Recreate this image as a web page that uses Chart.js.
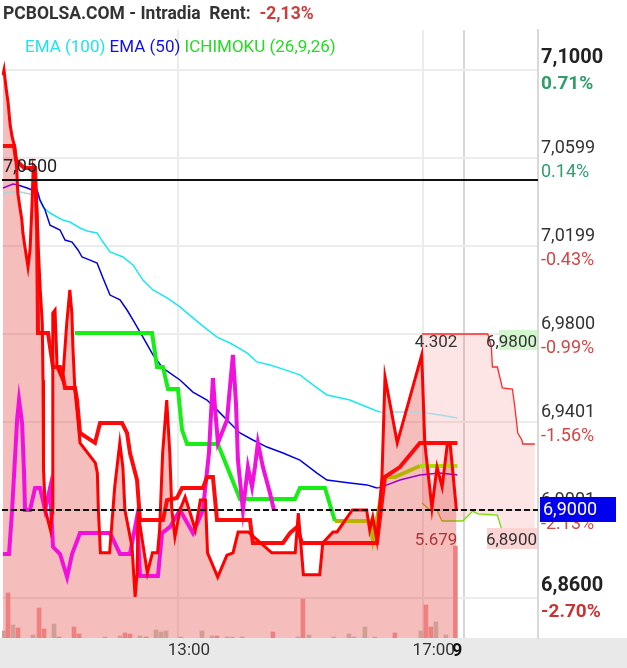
<!DOCTYPE html>
<html>
<head>
<meta charset="utf-8">
<script src="https://cdn.jsdelivr.net/npm/chart.js@4.4.1/dist/chart.umd.min.js"></script>
<style>
  html, body { margin: 0; padding: 0; background: #fff; }
  #wrap { width: 627px; height: 668px; }
</style>
</head>
<body>
<div id="wrap"><canvas id="chart" width="627" height="668"></canvas></div>
<script>
// ========================
// DATA (x = minutes since midnight)
// ========================
const X_MIN = 607.5;
const X_MAX = 1133;
const Y_MIN = 6.8418;
const Y_MAX = 7.1182;

const PREV_CLOSE = 7.05;
const PREV_CLOSE_LABEL = "7,0500";
const LAST_PRICE = 6.90;
const LAST_PRICE_LABEL = "6,9000";

const headerTitle = "PCBOLSA.COM - Intradia  Rent:  ";
const headerRent = "-2,13%";
const legendLabels = ["EMA (100)", "EMA (50)", "ICHIMOKU (26,9,26)"];

const xTickValues = [780, 1020, 1043, 1060];
const xTickLabels = ["13:00", "17:00", "9", ""];

const yTicks = [7.1000, 7.0599, 7.0199, 6.9800, 6.9401, 6.9001, 6.8600];
const yTickLabels = ["7,1000", "7,0599", "7,0199", "6,9800", "6,9401", "6,9001", "6,8600"];
const yTickPercents = ["0.71%", "0.14%", "-0.43%", "-0.99%", "-1.56%", "-2.13%", "-2.70%"];

// price (close)
const priceTimes = [608.5, 609.5, 611.5, 613.5, 615.5, 617.5, 620, 622, 623, 625,
  627, 628, 630, 633, 635, 637, 638, 640, 642, 643,
  645, 647, 647.7, 648.2, 650, 655, 656.6, 657.1, 657.5, 659.5,
  661.5, 667, 671, 674, 676, 677, 679, 682, 684, 699,
  701, 702, 704, 713, 718, 723, 726, 728, 735, 738,
  740, 741, 745, 750, 755, 760, 762, 765, 769, 772,
  774, 777, 782, 787, 792, 797, 802, 807, 809, 819,
  828, 834, 839, 849, 872, 895, 898, 903, 919, 922,
  932, 936, 951, 965, 968, 971, 975, 980, 983, 995,
  1019, 1022, 1029, 1034, 1039, 1044, 1047, 1053];
const priceValues = [7.0977, 7.1000, 7.0918, 7.0850, 7.0750, 7.0695, 7.0650, 7.0545, 7.0441, 7.0377,
  7.0318, 7.0259, 7.0195, 7.0105, 7.0182, 7.0395, 7.0545, 7.0500, 7.0332, 7.0195,
  7.0000, 6.9850, 6.9591, 6.9182, 6.9000, 6.8909, 6.8986, 6.9441, 6.9895, 6.9909,
  6.9650, 6.9591, 6.9850, 7.0000, 6.9895, 6.9741, 6.9545, 6.9409, 6.9305, 6.9214,
  6.9168, 6.9000, 6.8805, 6.8805, 6.9105, 6.9305, 6.9195, 6.9000, 6.8832, 6.8605,
  6.8714, 6.8986, 6.8864, 6.8714, 6.8805, 6.8805, 6.8909, 6.9259, 6.9500, 6.9259,
  6.9000, 6.8877, 6.9000, 6.9059, 6.8986, 6.8909, 6.9045, 6.9045, 6.8805, 6.8695,
  6.8795, 6.8805, 6.8900, 6.8900, 6.8805, 6.8805, 6.8986, 6.8705, 6.8705, 6.8850,
  6.8900, 6.8900, 6.9000, 6.9000, 6.8909, 6.8968, 6.8864, 6.9150, 6.9605, 6.9305,
  6.9705, 6.9305, 6.9009, 6.9195, 6.9105, 6.9295, 6.9295, 6.9000];

// ichimoku tenkan (9)
const tenkanTimes = [608.5, 619.3, 621.3, 629.1, 639.9, 641.9, 642.8, 652.6, 654.6, 657.5,
  664.4, 667.3, 669.3, 679.1, 681.1, 684, 698.7, 703.6, 725.2, 730.1,
  733, 739.9, 742.8, 765.3, 769.3, 779, 784, 804.5, 808.5, 814.3,
  818.3, 850.6, 853.5, 883, 889.8, 896.7, 901.6, 975.1, 982.9, 997.6, 1017.2, 1054];
const tenkanValues = [7.0655, 7.0655, 7.0591, 7.0555, 7.0555, 7.0273, 6.9805, 6.9805, 6.9741, 6.9650,
  6.9650, 6.9605, 6.9555, 6.9555, 6.9500, 6.9350, 6.9305, 6.9395, 6.9395, 6.9350,
  6.9259, 6.9136, 6.8955, 6.8955, 6.9045, 6.9055, 6.9100, 6.9100, 6.9150, 6.9150,
  6.8955, 6.8955, 6.8850, 6.8850, 6.8895, 6.8923, 6.8850, 6.8850, 6.9150, 6.9195, 6.9305, 6.9305];

// ichimoku kijun (26)
const kijunTimes = [679.1, 754.6, 759.5, 765.3, 770.2, 780, 784, 788.9, 819.2, 840.8,
  894.7, 899.6, 924.1, 933.9, 968.2, 971.1, 982.9, 992.7, 1017.2, 1054];
const kijunValues = [6.9805, 6.9805, 6.9650, 6.9650, 6.9550, 6.9550, 6.9364, 6.9300, 6.9300, 6.9050,
  6.9050, 6.9100, 6.9100, 6.8950, 6.8950, 6.8864, 6.9150, 6.9150, 6.9200, 6.9200];

// ichimoku chikou (lagging)
const chikouTimes = [608.5, 614.4, 617.4, 622.3, 624.2, 627.2, 629.1, 630.1, 635, 639.9,
  644.8, 649.7, 654.6, 657.5, 664.4, 671.3, 676.2, 684, 713.4, 723.2,
  733, 739.9, 742.8, 760.4, 764.4, 772.2, 782, 794.7, 804.5, 810.4,
  814.3, 816.3, 819.2, 828.1, 831, 833.9, 836.9, 838.8, 843.7, 848.6,
  852.6, 855.5, 858.4, 863.3, 870.2, 874.1];
const chikouValues = [6.8800, 6.8800, 6.9000, 6.9409, 6.9500, 6.9395, 6.9168, 6.9000, 6.9000, 6.9100,
  6.9100, 6.9000, 6.9100, 6.8832, 6.8800, 6.8695, 6.8800, 6.8895, 6.8895, 6.8800,
  6.8800, 6.8968, 6.8700, 6.8700, 6.8895, 6.8923, 6.9000, 6.8895, 6.9000, 6.9259,
  6.9600, 6.9468, 6.9305, 6.9409, 6.9559, 6.9705, 6.9486, 6.9227, 6.9000, 6.9195,
  6.9105, 6.9195, 6.9305, 6.9195, 6.9077, 6.9000];

// future cloud (senkou A / B)
const cloudTopTimes = [1019.2, 1083.8, 1087.3, 1088.3, 1093.2, 1098.1, 1107.9, 1110.3, 1113.2, 1117.2, 1118.1, 1129.9];
const cloudTopValues = [6.9800, 6.9800, 6.9741, 6.9650, 6.9650, 6.9555, 6.9550, 6.9468, 6.9350, 6.9318, 6.9300, 6.9300];
const cloudBottomTimes = [1019.2, 1027, 1033.9, 1038.8, 1059.3, 1069.1, 1074, 1093.2, 1098.1, 1127.9, 1129.9];
const cloudBottomValues = [6.9032, 6.9000, 6.9000, 6.8950, 6.8950, 6.8995, 6.8982, 6.8977, 6.8900, 6.8900, 6.8864];
const cloudTopLabel = "6,9800";
const cloudBottomLabel = "6,8900";
const lagTopLabel = "4.302";
const lagBottomLabel = "5.679";

// EMA 50
const ema50Times = [608.5, 618.3, 623.2, 632.1, 637, 641.9, 644.8, 649.7, 654.6, 664.4,
  669.3, 676.2, 682, 686, 693.8, 700.7, 706.5, 713.4, 723.2, 730.1,
  735.9, 745.7, 755.5, 765.3, 782, 794.7, 808.5, 818.3, 831, 840.8,
  853.5, 867.3, 883, 899.6, 916.3, 926.1, 948.6, 965.3, 975.1, 980,
  997.6, 1017.2, 1036.8, 1054];
const ema50Values = [7.0464, 7.0482, 7.0477, 7.0464, 7.0455, 7.0455, 7.0409, 7.0364, 7.0295, 7.0273,
  7.0227, 7.0218, 7.0182, 7.0150, 7.0136, 7.0123, 7.0055, 6.9977, 6.9955, 6.9909,
  6.9864, 6.9786, 6.9705, 6.9645, 6.9591, 6.9536, 6.9500, 6.9455, 6.9395, 6.9350,
  6.9318, 6.9286, 6.9259, 6.9227, 6.9168, 6.9136, 6.9123, 6.9114, 6.9100, 6.9105,
  6.9136, 6.9159, 6.9168, 6.9159];

// EMA 100
const ema100Times = [608.5, 615.4, 625.2, 635, 642.8, 647.7, 654.6, 661.5, 667.3, 674.2,
  684, 690.9, 700.7, 706.5, 713.4, 726.1, 735.9, 745.7, 755.5, 769.3,
  782, 794.7, 804.5, 818.3, 831, 847.7, 857.5, 870.2, 880, 899.6,
  916.3, 926.1, 948.6, 965.3, 978, 1017.2, 1036.8, 1054];
const ema100Values = [7.0441, 7.0445, 7.0445, 7.0436, 7.0423, 7.0377, 7.0350, 7.0332, 7.0318, 7.0309,
  7.0282, 7.0268, 7.0259, 7.0218, 7.0173, 7.0150, 7.0114, 7.0045, 7.0000, 6.9964,
  6.9923, 6.9873, 6.9836, 6.9786, 6.9759, 6.9714, 6.9673, 6.9659, 6.9645, 6.9614,
  6.9555, 6.9523, 6.9500, 6.9468, 6.9445, 6.9445, 6.9432, 6.9418];

// volume (5 min bars)
const volumeTimes = [609, 613.4, 618.3, 623.2, 637.9, 643.8, 648.7, 658.5, 663.4, 678.1,
  683, 708.5, 723.2, 728.1, 733, 742.8, 748.7, 758.5, 763.4, 768.3,
  783, 803.6, 813.4, 818.3, 828.1, 833, 842.8, 873.1, 897.6, 902.5,
  908.4, 932.9, 947.6, 952.5, 963.3, 973.1, 992.7, 1018.2, 1023.1, 1028,
  1032.9, 1042.7, 1052];
const volumeValues = [350, 2250, 650, 500, 150, 1500, 450, 700, 50, 550,
  200, 50, 100, 250, 200, 100, 50, 400, 300, 350,
  50, 350, 100, 100, 50, 50, 50, 300, 50, 1950,
  150, 50, 200, 50, 550, 50, 250, 350, 1650, 550,
  800, 150, 4600];
const volumeDown = [0, 1, 0, 1, 0, 1, 1, 0, 1, 1,
  1, 0, 0, 1, 1, 0, 1, 0, 0, 0,
  0, 0, 0, 1, 0, 0, 0, 1, 0, 1,
  0, 0, 0, 0, 0, 0, 1, 0, 1, 1,
  0, 0, 1];
const VOLUME_MAX = 30400;

// ========================
// HELPERS
// ========================
const FONT = "Roboto";

function zip(xs, ys) {
  return xs.map((x, i) => ({ x, y: ys[i] }));
}

function lineSet(label, data, color, width, order, extra) {
  return Object.assign({
    type: "line",
    label,
    data,
    borderColor: color,
    borderWidth: width,
    pointRadius: 0,
    tension: 0,
    fill: false,
    order
  }, extra || {});
}

// ========================
// TEXT / DECORATION PLUGIN
// ========================
const decor = {
  id: "decor",
  beforeDraw(chart) {
    const { ctx, width, height, chartArea } = chart;
    ctx.save();
    ctx.fillStyle = "#ffffff";
    ctx.fillRect(0, 0, width, height);
    ctx.fillStyle = "#e9e9e9";
    ctx.fillRect(0, chartArea.bottom, width, height - chartArea.bottom);
    ctx.restore();
  },
  afterDraw(chart) {
    const { ctx, chartArea } = chart;
    const xs = chart.scales.x;
    const ys = chart.scales.y;
    ctx.save();
    ctx.textBaseline = "alphabetic";

    // header
    ctx.font = `bold 17.5px ${FONT}`;
    ctx.fillStyle = "#333333";
    ctx.textAlign = "left";
    ctx.fillText(headerTitle, 3, 19);
    const hw = ctx.measureText(headerTitle).width;
    ctx.fillStyle = "#d03a3a";
    ctx.fillText(headerRent, 3 + hw, 19);

    // legend
    ctx.font = `17px ${FONT}`;
    const legendColors = ["#1fe3ee", "#1010ee", "#22dd22"];
    let lx = 25;
    legendLabels.forEach((t, i) => {
      ctx.fillStyle = legendColors[i];
      ctx.fillText(t, lx, 52);
      lx += ctx.measureText(t + " ").width;
    });

    // right axis labels
    const ax = chartArea.right + 3;
    yTicks.forEach((v, i) => {
      const py = ys.getPixelForValue(v);
      const strong = i === 0 || i === yTicks.length - 1;
      const neg = yTickPercents[i].startsWith("-");
      ctx.font = strong ? `bold 20px ${FONT}` : `18px ${FONT}`;
      ctx.fillStyle = strong ? "#222222" : "#333333";
      ctx.fillText(yTickLabels[i], ax, py - (strong ? 7 : 5));
      ctx.font = strong ? `bold 19px ${FONT}` : `18px ${FONT}`;
      ctx.fillStyle = neg ? (strong ? "#c93333" : "#d24646") : "#2f9e6b";
      ctx.fillText(yTickPercents[i], ax, py + 19);
    });

    // previous close label
    ctx.font = `18px ${FONT}`;
    ctx.fillStyle = "#222222";
    ctx.fillText(PREV_CLOSE_LABEL, chartArea.left + 1, ys.getPixelForValue(PREV_CLOSE) - 8);

    // cloud labels
    const endX = xs.getPixelForValue(priceTimes[priceTimes.length - 1]) + 1;
    const rx = chartArea.right - 1;
    const topY = ys.getPixelForValue(cloudTopValues[0]);
    const botY = ys.getPixelForValue(cloudBottomValues[cloudBottomValues.length - 2]);
    ctx.fillStyle = "#d3f6cf";
    ctx.fillRect(rx - 38, topY - 4, 38, 20);
    ctx.fillStyle = "#fcd4d4";
    ctx.fillRect(rx - 50, botY - 4, 50, 21);
    ctx.font = `17px ${FONT}`;
    ctx.textAlign = "right";
    ctx.fillStyle = "#333333";
    ctx.fillText(cloudTopLabel, rx, topY + 13);
    ctx.fillText(lagTopLabel, endX, topY + 13);
    ctx.fillText(cloudBottomLabel, rx, botY + 13);
    ctx.fillStyle = "#b03434";
    ctx.fillText(lagBottomLabel, endX, botY + 13);

    // last price box
    const lp = ys.getPixelForValue(LAST_PRICE);
    ctx.fillStyle = "#0000ee";
    ctx.fillRect(chartArea.right + 2, lp - 13, 76, 25);
    ctx.font = `18px ${FONT}`;
    ctx.textAlign = "left";
    ctx.fillStyle = "#ffffff";
    ctx.fillText(LAST_PRICE_LABEL, chartArea.right + 5, lp + 5);

    ctx.restore();
  }
};

// ========================
// CHART
// ========================
const ctx = document.getElementById("chart").getContext("2d");

const chart = new Chart(ctx, {
  type: "line",
  data: {
    datasets: [
      lineSet("cloudTop", zip(cloudTopTimes, cloudTopValues), "#ff2a2a", 1.3, 20,
        { fill: "+1", backgroundColor: "rgba(245,110,110,0.18)" }),
      lineSet("cloudBottom", zip(cloudBottomTimes, cloudBottomValues), "#77dd00", 1.3, 19, {
        segment: { borderColor: c => c.p0.parsed.x < 1038 ? "#b7b400" : "#77dd00" }
      }),
      lineSet("priceArea", zip(priceTimes, priceValues), "rgba(0,0,0,0)", 0, 16,
        { fill: "start", backgroundColor: "rgba(228,55,55,0.33)" }),
      {
        type: "bar",
        label: "volume",
        yAxisID: "yv",
        data: zip(volumeTimes, volumeValues),
        backgroundColor: volumeDown.map(d => d ? "#f08080" : "#d09e92"),
        barThickness: 4,
        order: 15
      },
      lineSet("EMA (100)", zip(ema100Times, ema100Values), "#19e8f0", 1.5, 13, {
        segment: {
          borderColor: c => c.p0.parsed.x < 642 ? "#a9d6d6" : (c.p0.parsed.x >= 978 ? "#a6dbe6" : "#19e8f0")
        }
      }),
      lineSet("EMA (50)", zip(ema50Times, ema50Values), "#0000e8", 1.5, 12, {
        segment: {
          borderColor: c => (c.p0.parsed.x < 623 || c.p0.parsed.x >= 975) ? "#9d00c9" : "#0000e8"
        }
      }),
      lineSet("kijun", zip(kijunTimes, kijunValues), "#16ee16", 4, 11, {
        segment: {
          borderColor: c => c.p0.parsed.x < 933 ? "#16ee16" : (c.p0.parsed.x < 1017 ? "#b7b400" : "#9ee600")
        }
      }),
      lineSet("chikou", zip(chikouTimes, chikouValues), "#f210dc", 4, 10),
      lineSet("tenkan", zip(tenkanTimes, tenkanValues), "#ff0a0a", 4, 9),
      lineSet("price", zip(priceTimes, priceValues), "#ff0000", 3, 5),
      lineSet("prevClose", [{ x: X_MIN, y: PREV_CLOSE }, { x: X_MAX, y: PREV_CLOSE }], "#111111", 2, 2),
      lineSet("last", [{ x: X_MIN, y: LAST_PRICE }, { x: X_MAX, y: LAST_PRICE }], "#111111", 2, 1,
        { borderDash: [6, 3] })
    ]
  },
  options: {
    responsive: false,
    animation: false,
    devicePixelRatio: 1,
    events: [],
    layout: { padding: { top: 30, left: 2, right: 0, bottom: 0 } },
    plugins: {
      legend: { display: false },
      tooltip: { enabled: false },
      title: { display: false }
    },
    scales: {
      x: {
        type: "linear",
        min: X_MIN,
        max: X_MAX,
        offset: false,
        afterBuildTicks: s => { s.ticks = xTickValues.map(v => ({ value: v })); },
        afterFit: s => { s.height = 30; },
        grid: {
          offset: false,
          drawTicks: false,
          lineWidth: 2,
          color: c => c.index === 2 ? "rgba(0,0,0,0)" : (c.index === 3 ? "#d6d6d6" : "#ececec")
        },
        border: { display: false },
        ticks: {
          autoSkip: false,
          maxRotation: 0,
          padding: 3,
          labelOffset: 11,
          callback: (v, i) => xTickLabels[i],
          color: c => c.index === 2 ? "#111111" : "#333333",
          font: c => c.index === 2 ? { family: FONT, size: 18, weight: "bold" } : { family: FONT, size: 17 }
        }
      },
      y: {
        position: "right",
        min: Y_MIN,
        max: Y_MAX,
        afterBuildTicks: s => { s.ticks = yTicks.map(v => ({ value: v })); },
        afterFit: s => { s.width = 89; },
        grid: { drawTicks: false, lineWidth: 2, color: "#ececec" },
        border: { display: true, color: "#d9d9d9", width: 2 },
        ticks: { display: false }
      },
      yv: {
        display: false,
        min: 0,
        max: VOLUME_MAX
      }
    }
  },
  plugins: [decor]
});
</script>
</body>
</html>
